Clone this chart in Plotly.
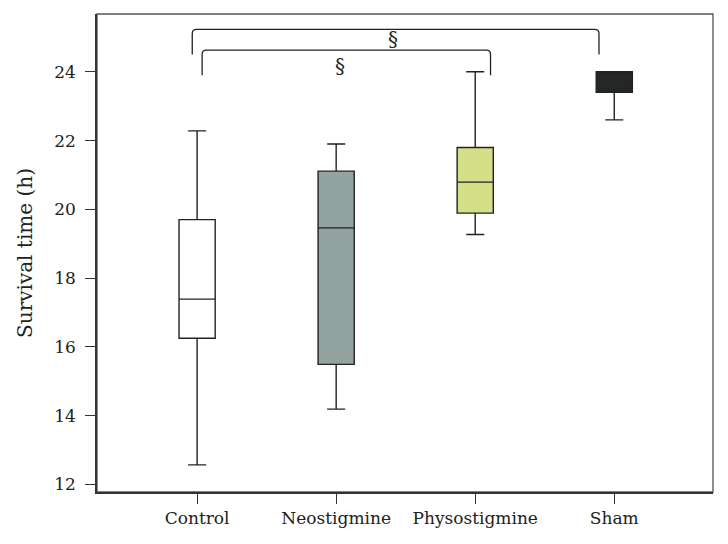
import plotly.graph_objects as go

groups = ["Control", "Neostigmine", "Physostigmine", "Sham"]
lower = [12.57, 14.19, 19.27, 22.6]
q1 = [16.25, 15.49, 19.89, 23.4]
median = [17.39, 19.46, 20.79, 24.0]
q3 = [19.70, 21.11, 21.80, 24.0]
upper = [22.28, 21.90, 24.0, 24.0]
fills = ["#ffffff", "#93a3a0", "#d4df87", "#232826"]

# significance brackets: x start, x end, top level, foot level, label x, label y
brackets = [
    (-0.035, 2.89, 25.23, 24.5, 1.41, 24.95),
    (0.036, 2.11, 24.63, 23.9, 1.03, 24.18),
]

font = "DejaVu Serif"
fig = go.Figure()

for i, g in enumerate(groups):
    fig.add_trace(go.Box(
        x=[i], q1=[q1[i]], median=[median[i]], q3=[q3[i]],
        lowerfence=[lower[i]], upperfence=[upper[i]],
        width=0.26, whiskerwidth=0.5,
        fillcolor=fills[i],
        line=dict(color="#222222", width=1.4),
        name=g, showlegend=False, boxpoints=False,
    ))

for x0, x1, ytop, yfoot, lx, ly in brackets:
    dx, dy = 0.03, 0.12
    path = (f"M {x0},{yfoot} L {x0},{ytop - dy} Q {x0},{ytop} {x0 + dx},{ytop} "
            f"L {x1 - dx},{ytop} Q {x1},{ytop} {x1},{ytop - dy} L {x1},{yfoot}")
    fig.add_shape(type="path", path=path, xref="x", yref="y",
                  line=dict(color="#222222", width=1.3))
    fig.add_annotation(x=lx, y=ly, text="§", showarrow=False,
                       font=dict(family=font, size=20, color="#222222"))

# frame round the plot area
fig.add_shape(type="rect", xref="paper", yref="paper", x0=0, x1=1, y0=0, y1=1,
              line=dict(color="#555555", width=1.3), layer="below")

# page body adds 8px, so the canvas is 8px smaller and margins shifted
fig.update_layout(
    width=720, height=536,
    margin=dict(l=89, r=15, t=6, b=52),
    plot_bgcolor="white", paper_bgcolor="white",
    font=dict(family=font, size=17, color="#222222"),
    xaxis=dict(
        range=[-0.72, 3.71], tickvals=[0, 1, 2, 3], ticktext=groups,
        showline=True, linecolor="#333333", linewidth=1.5,
        ticks="outside", ticklen=10, tickcolor="#333333",
        showgrid=False, zeroline=False,
    ),
    yaxis=dict(
        range=[11.78, 25.68], tickvals=[12, 14, 16, 18, 20, 22, 24],
        showline=True, linecolor="#333333", linewidth=1.5,
        ticks="outside", ticklen=10, tickcolor="#333333",
        ticklabelstandoff=6,
        showgrid=False, zeroline=False,
        title=dict(text="Survival time (h)", standoff=16),
    ),
)

fig.write_html("out.html")
